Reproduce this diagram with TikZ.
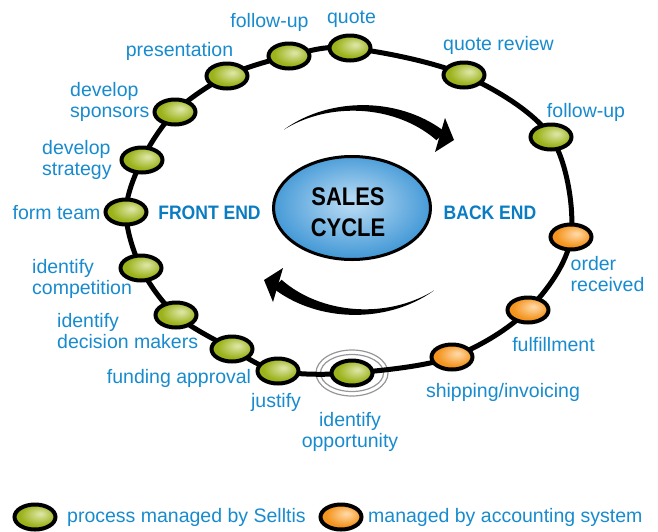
\documentclass[tikz,border=0pt]{standalone}
\usepackage{fontspec}
\setmainfont{Liberation Sans}
\newfontfamily\condfont{Liberation Sans}[FakeStretch=0.9]
\newfontfamily\centerfont{Liberation Sans}[FakeStretch=0.86]
\usetikzlibrary{shapes.geometric}
\definecolor{lblue}{RGB}{24,139,206}
\definecolor{eblue}{RGB}{10,124,194}
\definecolor{ginner}{RGB}{218,228,160}
\definecolor{gouter}{RGB}{156,178,26}
\definecolor{oinner}{RGB}{255,214,160}
\definecolor{oouter}{RGB}{244,148,30}
\definecolor{binner}{RGB}{176,214,242}
\definecolor{bouter}{RGB}{66,152,214}
\definecolor{ringgray}{RGB}{150,150,150}
\pgfdeclareradialshading{greenball}{\pgfpoint{7bp}{7bp}}{color(0bp)=(ginner); color(2bp)=(ginner); color(22bp)=(gouter); color(50bp)=(gouter)}
\pgfdeclareradialshading{orangeball}{\pgfpoint{7bp}{7bp}}{color(0bp)=(oinner); color(2bp)=(oinner); color(22bp)=(oouter); color(50bp)=(oouter)}
\pgfdeclareradialshading{blueball}{\pgfpoint{0bp}{3bp}}{color(0bp)=(binner); color(3bp)=(binner); color(26bp)=(bouter); color(50bp)=(bouter)}
\newcommand{\twol}[2]{\vtop{\baselineskip=21pt\hbox{#1}\hbox{#2}}}
\newcommand{\twoc}[3][21pt]{\vtop{\baselineskip=#1\halign{\hfil##\hfil\cr#2\cr#3\cr}}}
\tikzset{
  lbl/.style={inner sep=0pt, text=lblue, font=\fontsize{19.5}{21}\selectfont},
  endlbl/.style={inner sep=0pt, text=eblue, font=\condfont\bfseries\fontsize{19.5}{21}\selectfont},
  stage/.style={ellipse, draw=black, line width=4pt, minimum width=41pt, minimum height=25pt, inner sep=0pt},
  gstage/.style={stage, shading=greenball},
  ostage/.style={stage, shading=orangeball},
  track/.style={line width=5pt},
  ring/.style={draw=ringgray, line width=1.2pt},
  sweep/.pic={
    \fill plot[domain=130:44, samples=60, variable=\t]
        ({-1+(115+6*(130-\t)/86)*cos(\t)}, {-10-(92+6*(130-\t)/86)*sin(\t)})
      -- plot[domain=44:130, samples=60, variable=\t]
        ({-1+(115-6*(130-\t)/86)*cos(\t)}, {-10-(92-6*(130-\t)/86)*sin(\t)})
      -- cycle;
    \fill (86,-92) -- (95,-70) -- (76,-58) -- cycle;
  }
}
\begin{document}
\begin{tikzpicture}[x=1pt,y=-1pt]
\useasboundingbox (0,0) rectangle (658,531);
% positions of the stages
\coordinate (p-quote) at (350,48);
\coordinate (p-qrev) at (464,75);
\coordinate (p-fup2) at (551,137);
\coordinate (p-ord) at (571,237);
\coordinate (p-fulf) at (528,310);
\coordinate (p-ship) at (452,357);
\coordinate (p-opp) at (352,373);
\coordinate (p-just) at (278,371);
\coordinate (p-fund) at (232,349);
\coordinate (p-decm) at (176,315);
\coordinate (p-comp) at (141,268);
\coordinate (p-form) at (126,212);
\coordinate (p-dstrat) at (142,160);
\coordinate (p-dspons) at (175,112);
\coordinate (p-pres) at (227,76);
\coordinate (p-fup1) at (289,56);
% rings around the start
\draw[ring] (p-opp) ellipse [x radius=36, y radius=23];
\draw[ring] (p-opp) ellipse [x radius=31.5, y radius=18.5];
% the track
\draw[track] plot[smooth cycle, tension=0.55] coordinates {(p-quote) (p-qrev) (p-fup2) (p-ord) (p-fulf) (p-ship) (p-opp) (p-just) (p-fund) (p-decm) (p-comp) (p-form) (p-dstrat) (p-dspons) (p-pres) (p-fup1)};
% stages
\node[gstage] (quote) at (p-quote) {};
\node[gstage] (qrev) at (p-qrev) {};
\node[gstage] (fup2) at (p-fup2) {};
\node[ostage] (ord) at (p-ord) {};
\node[ostage] (fulf) at (p-fulf) {};
\node[ostage] (ship) at (p-ship) {};
\node[gstage] (opp) at (p-opp) {};
\node[gstage] (just) at (p-just) {};
\node[gstage] (fund) at (p-fund) {};
\node[gstage] (decm) at (p-decm) {};
\node[gstage] (comp) at (p-comp) {};
\node[gstage] (form) at (p-form) {};
\node[gstage] (dstrat) at (p-dstrat) {};
\node[gstage] (dspons) at (p-dspons) {};
\node[gstage] (pres) at (p-pres) {};
\node[gstage] (fup1) at (p-fup1) {};
% labels
\node[lbl, anchor=base] (l-fup1) at (269.5,27) {follow-up};
\node[lbl, anchor=base] (l-quote) at (351.5,23) {quote};
\node[lbl, anchor=base] (l-pres) at (179.5,56) {presentation};
\node[lbl, anchor=base west] (l-dspons) at (70,96) {\twol{develop}{sponsors}};
\node[lbl, anchor=base west] (l-dstrat) at (42,154) {\twol{develop}{strategy}};
\node[lbl, anchor=base] (l-form) at (56.5,219) {form team};
\node[lbl, anchor=base west] (l-comp) at (32,273) {\twol{identify}{competition}};
\node[lbl, anchor=base west] (l-decm) at (57,327) {\twol{identify}{decision makers}};
\node[lbl, anchor=base] (l-fund) at (179,383) {funding approval};
\node[lbl, anchor=base] (l-just) at (276,407) {justify};
\node[lbl, anchor=base] (l-opp) at (350,426) {\twoc{identify}{opportunity}};
\node[lbl, anchor=base] (l-ship) at (503,397) {shipping/invoicing};
\node[lbl, anchor=base] (l-fulf) at (553.5,351) {fulfillment};
\node[lbl, anchor=base west] (l-ord) at (570.5,270) {\twol{order}{received}};
\node[lbl, anchor=base] (l-fup2) at (586,117) {follow-up};
\node[lbl, anchor=base] (l-qrev) at (498.5,50) {quote review};
% center
\pic at (359,210) {sweep};
\pic[rotate=180] at (359,210) {sweep};
\node[ellipse, draw=black, line width=3pt, minimum width=157pt, minimum height=103pt, inner sep=0pt, shading=blueball] (cycle) at (352,208) {};
\node[inner sep=0pt, anchor=base, font=\centerfont\bfseries\fontsize{25.5}{31}\selectfont] (cycletext) at (348,205) {\twoc[31pt]{SALES}{CYCLE}};
\node[endlbl, anchor=base] (front) at (209.5,219) {FRONT END};
\node[endlbl, anchor=base] (back) at (490,219) {BACK END};
% legend
\node[gstage] (leg-g) at (35,517) {};
\node[lbl, anchor=base west] (leg-gt) at (67,522) {process managed by Selltis};
\node[ostage] (leg-o) at (341,517) {};
\node[lbl, anchor=base west] (leg-ot) at (368,522) {managed by accounting system};
\end{tikzpicture}
\end{document}
